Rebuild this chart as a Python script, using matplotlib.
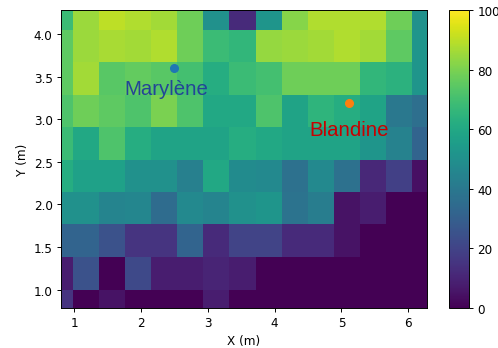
import numpy as np
import matplotlib
matplotlib.use("Agg")
import matplotlib.pyplot as plt

x_centers = [0.79, 1.18, 1.57, 1.96, 2.35, 2.74, 3.13, 3.52, 3.91, 4.30, 4.69, 5.08, 5.47, 5.86, 6.25]
y_centers = [4.235, 3.855, 3.475, 3.09, 2.715, 2.335, 1.955, 1.575, 1.19, 0.81]  # top to bottom

values = [
    [68, 85, 90, 88, 86, 78, 50, 12, 52, 82, 88, 88, 88, 78, 50],
    [75, 85, 87, 86, 88, 78, 68, 66, 84, 85, 86, 88, 86, 75, 52],
    [75, 86, 74, 76, 74, 70, 62, 68, 70, 78, 78, 78, 66, 64, 52],
    [72, 78, 75, 72, 80, 72, 60, 60, 72, 58, 65, 62, 58, 40, 36],
    [68, 60, 72, 62, 58, 58, 58, 62, 60, 58, 58, 58, 52, 44, 32],
    [62, 57, 57, 50, 50, 43, 60, 48, 47, 37, 47, 37, 11, 19, 4],
    [50, 50, 45, 46, 35, 47, 45, 50, 52, 38, 42, 5, 8, 0, 0],
    [32, 32, 25, 15, 15, 32, 12, 20, 20, 12, 12, 5, 0, 0, 0],
    [8, 25, 0, 22, 8, 8, 10, 8, 0, 0, 0, 0, 0, 0, 0],
    [15, 0, 5, 0, 0, 0, 8, 0, 0, 0, 0, 0, 0, 0, 0],
]

people = ["Marylène", "Blandine"]
people_x = [2.5, 5.12]
people_y = [3.6, 3.19]
label_x = [1.76, 4.52]
label_y = [3.30, 2.81]
dot_colors = ["#1f77b4", "#ff7f0e"]
text_colors = ["#234597", "#c80000"]

W, H = 498, 349
DPI = 86.4
fig = plt.figure(figsize=(W / DPI, H / DPI), dpi=DPI)
ax = fig.add_axes([61 / W, (H - 309) / H, (427 - 61) / W, (309 - 11) / H])
cax = fig.add_axes([449 / W, (H - 309) / H, (469 - 449) / W, (309 - 11) / H])

Z = np.array(values, dtype=float)[::-1]
yc = np.array(y_centers)[::-1]
mesh = ax.pcolormesh(np.array(x_centers), yc, Z, shading="nearest",
                     cmap="viridis", vmin=0, vmax=100)
for name, px, py, lx, ly, dc, tc in zip(people, people_x, people_y, label_x, label_y,
                                        dot_colors, text_colors):
    ax.plot(px, py, "o", color=dc, markersize=6.5)
    ax.text(lx, ly, name, color=tc, fontsize=17, family="Liberation Sans")

ax.set_xlim(0.805, 6.28)
ax.set_ylim(0.785, 4.28)
ax.set_xticks([1, 2, 3, 4, 5, 6])
ax.set_yticks([1.0, 1.5, 2.0, 2.5, 3.0, 3.5, 4.0])
ax.set_xlabel("X (m)")
ax.set_ylabel("Y (m)")

cb = fig.colorbar(mesh, cax=cax)
cb.set_ticks([0, 20, 40, 60, 80, 100])

fig.savefig("out.png", dpi=DPI)
